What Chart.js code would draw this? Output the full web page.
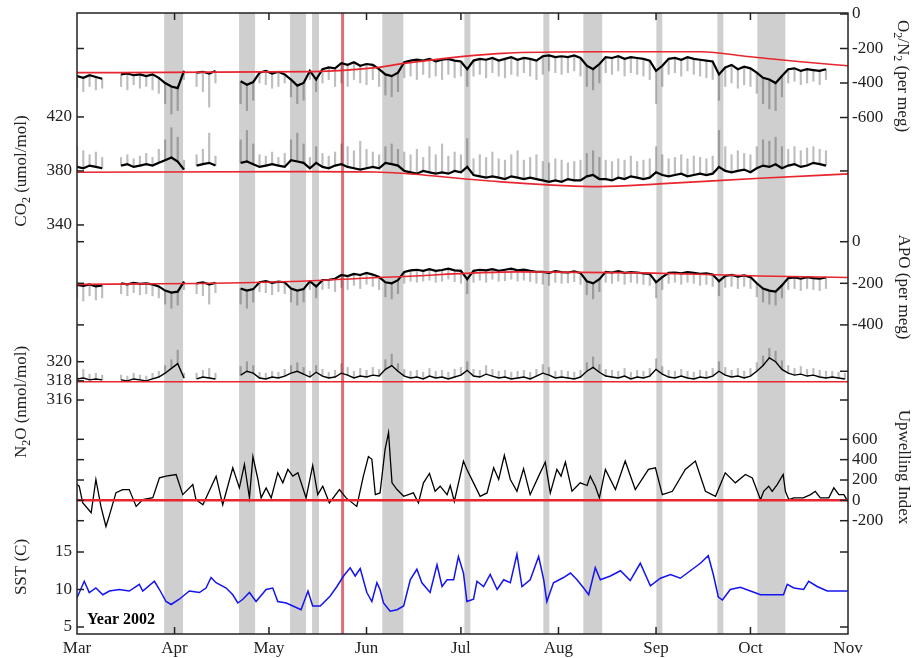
<!DOCTYPE html>
<html>
<head>
<meta charset="utf-8">
<script src="https://cdn.jsdelivr.net/npm/chart.js@4.4.0/dist/chart.umd.min.js"></script>
<style>
  html, body { margin: 0; padding: 0; background: #fff; }
  #wrap { width: 913px; height: 658px; }
</style>
</head>
<body>
<div id="wrap"><canvas id="chart" width="913" height="658"></canvas></div>
<script>
// x axis: days since 1 March 2002
const monthDays = [0, 31, 61, 92, 122, 153, 184, 214, 245];
const monthLabels = ['Mar', 'Apr', 'May', 'Jun', 'Jul', 'Aug', 'Sep', 'Oct', 'Nov'];

// shaded upwelling events and the marked day
const bandStart = [27.7, 51.5, 67.7, 74.7, 97.0, 123.1, 148.2, 160.9, 184.1, 203.5, 216.2];
const bandEnd   = [33.7, 56.6, 72.8, 76.9, 103.7, 125.0, 150.1, 166.9, 186.0, 205.4, 225.1];
const eventDay = 84.4;

// tick values
const o2Ticks = [0, -200, -400, -600];
const co2Ticks = [420, 380, 340];
const apoTicks = [0, -200, -400];
const n2oTicks = [320, 318, 316];
const upTicks = [600, 400, 200, 0, -200];
const sstTicks = [15, 10, 5];

// flask/in-situ records, one sample every 2 days (d0, d2, ... d244)
const binDays = Array.from({ length: 123 }, (_, i) => i * 2);

const o2Trace = [
  -360,-370,-355,-365,-375,null,null,-350,-345,-355,
  -350,-360,-350,-370,-400,-420,-430,-330,null,-340,
  -335,-345,-330,null,null,null,-390,-410,-395,-340,
  -330,-345,-335,-350,-380,-415,-400,-330,-380,-320,
  -310,-315,-285,-295,-280,-300,-290,-295,-320,-350,
  -360,-340,-280,-270,-265,-270,-260,-275,-265,-260,
  -270,-275,-320,-270,-260,-265,-255,-270,-260,-250,
  -265,-255,-260,-270,-245,-240,-250,-245,-250,-240,
  -255,-300,-320,-290,-250,-255,-245,-260,-250,-255,
  -260,-270,-330,-300,-260,-255,-265,-250,-260,-265,
  -270,-275,-350,-310,-295,-320,-305,-315,-340,-370,
  -380,-400,-360,-320,-315,-330,-320,-325,-330,-320,
  null,null,null];
const o2Low = [
  -430,-450,-420,-440,-430,null,null,-420,-440,-410,
  -430,-420,-440,-460,-520,-580,-560,-380,null,-420,
  -450,-540,-400,null,null,null,-520,-560,-500,-400,
  -410,-430,-420,-400,-480,-520,-500,-380,-450,-400,
  -380,-420,-400,-420,-380,-400,-410,-380,-420,-470,
  -480,-450,-370,-360,-380,-350,-370,-360,-380,-350,
  -370,-360,-420,-360,-350,-370,-340,-360,-370,-350,
  -360,-340,-360,-380,-350,-330,-340,-350,-340,-330,
  -360,-420,-440,-400,-340,-350,-330,-360,-340,-350,
  -360,-380,-520,-420,-350,-340,-360,-330,-350,-360,
  -370,-380,-500,-420,-400,-430,-410,-420,-460,-520,
  -550,-560,-480,-400,-390,-410,-400,-390,-410,-380,
  null,null,null];

const co2Trace = [
  383,382,384,383,382,null,null,384,385,383,
  384,385,384,386,388,390,387,381,null,384,
  385,386,384,null,null,null,386,387,385,383,
  384,385,384,383,388,387,386,382,386,383,
  382,384,385,383,382,381,382,383,382,386,
  385,384,380,379,378,380,379,378,379,378,
  380,379,383,377,376,375,376,375,374,376,
  375,374,375,374,373,372,373,372,374,373,
  373,376,377,374,374,373,375,374,376,375,
  374,375,379,377,376,377,378,376,377,378,
  377,378,383,380,379,380,381,379,382,384,
  383,385,382,384,385,383,384,386,385,384,
  null,null,null];
const co2High = [
  398,395,392,394,390,null,null,390,392,389,
  391,393,390,396,403,412,405,388,null,392,
  396,408,391,null,null,null,403,410,400,392,
  391,394,390,393,403,408,400,390,398,393,
  391,394,400,398,395,402,396,394,392,398,
  400,396,394,392,396,390,398,392,400,391,
  394,392,404,389,392,390,394,389,388,392,
  395,388,390,392,387,386,389,388,386,387,
  388,393,395,390,388,387,389,388,391,387,
  388,389,398,392,389,390,392,389,391,390,
  389,391,410,398,392,395,393,392,398,403,
  402,405,398,396,398,395,397,398,396,395,
  null,null,null];

const apoTrace = [
  -208,-212,-205,-215,-210,null,null,-200,-205,-198,
  -203,-200,-205,-215,-235,-245,-240,-192,null,-200,
  -195,-205,-198,null,null,null,-225,-235,-228,-195,
  -190,-198,-192,-195,-225,-235,-228,-190,-215,-185,
  -183,-178,-160,-165,-155,-160,-150,-158,-170,-195,
  -200,-185,-145,-138,-135,-140,-132,-140,-136,-130,
  -138,-140,-180,-140,-135,-138,-132,-140,-135,-130,
  -138,-134,-140,-145,-145,-150,-142,-146,-148,-143,
  -150,-190,-200,-180,-145,-148,-142,-150,-146,-148,
  -152,-155,-195,-170,-150,-148,-152,-146,-150,-155,
  -152,-158,-190,-165,-160,-168,-162,-170,-200,-225,
  -235,-240,-210,-175,-172,-178,-170,-175,-178,-172,
  null,null,null];
const apoLow = [
  -270,-285,-260,-280,-270,null,null,-250,-260,-245,
  -255,-250,-260,-270,-300,-320,-305,-230,null,-250,
  -260,-300,-245,null,null,null,-300,-320,-290,-240,
  -245,-255,-240,-250,-290,-305,-290,-230,-270,-230,
  -225,-240,-220,-230,-210,-225,-205,-215,-230,-265,
  -275,-250,-200,-190,-195,-190,-185,-195,-190,-180,
  -192,-200,-250,-195,-185,-195,-180,-190,-188,-180,
  -190,-185,-192,-200,-205,-210,-195,-200,-198,-192,
  -205,-255,-275,-240,-195,-200,-190,-205,-195,-200,
  -205,-210,-270,-230,-200,-195,-205,-195,-200,-210,
  -205,-215,-260,-220,-215,-225,-215,-225,-265,-290,
  -300,-305,-270,-230,-225,-235,-225,-230,-235,-225,
  null,null,null];

const n2oTrace = [
  318.2,318.3,318.1,318.2,318.1,null,null,318.1,318.0,318.2,
  318.1,318.0,318.2,318.4,318.8,319.3,319.8,318.3,null,318.2,
  318.4,318.3,318.2,null,null,null,318.6,319.0,318.8,318.3,
  318.2,318.4,318.3,318.5,318.8,319.0,318.7,318.4,318.9,318.5,
  318.3,318.4,318.8,318.6,318.3,318.5,318.4,318.6,318.5,319.2,
  319.6,319.0,318.5,318.3,318.4,318.2,318.5,318.3,318.4,318.2,
  318.4,318.6,319.1,318.5,318.4,318.7,318.5,318.3,318.4,318.2,
  318.3,318.4,318.2,318.5,318.8,318.6,318.3,318.4,318.3,318.2,
  318.4,319.0,319.4,318.9,318.5,318.4,318.3,318.5,318.2,318.4,
  318.3,318.5,319.2,318.7,318.4,318.3,318.5,318.3,318.2,318.4,
  318.3,318.5,319.0,318.6,318.4,318.5,318.3,318.5,319.0,319.6,
  320.4,320.0,319.2,318.8,318.6,318.7,318.5,318.6,318.4,318.3,
  318.4,318.3,318.2];
const n2oHigh = [
  318.9,319.2,318.7,318.8,318.6,null,null,318.6,318.5,318.8,
  318.6,318.5,318.8,319.0,319.6,320.2,321.2,318.8,null,318.8,
  319.1,319.3,318.8,null,null,null,319.5,320.0,319.6,318.9,
  318.8,319.0,318.9,319.2,319.6,319.9,319.4,319.0,319.6,319.2,
  318.9,319.1,319.8,319.4,319.0,319.3,319.1,319.4,319.2,320.2,
  320.8,319.8,319.2,319.0,319.1,318.9,319.3,319.0,319.1,318.9,
  319.2,319.4,320.0,319.2,319.1,319.6,319.2,319.0,319.1,318.9,
  319.0,319.1,318.9,319.2,319.7,319.4,319.0,319.1,319.0,318.9,
  319.1,319.9,320.5,319.7,319.2,319.1,319.0,319.3,318.9,319.1,
  319.0,319.3,320.3,319.5,319.1,319.0,319.2,319.0,318.9,319.1,
  319.0,319.3,320.0,319.4,319.1,319.3,319.0,319.3,319.9,320.6,
  321.4,321.1,320.1,319.6,319.3,319.5,319.2,319.3,319.1,319.0,
  319.0,318.9,318.8];

// smooth baselines (red)
const o2BaseDays = [0, 75, 95, 104, 135, 166, 198, 214, 230, 245];
const o2Base = [-340, -334, -311, -286, -228, -219, -219, -248, -277, -300];
const co2BaseDays = [0, 71, 95, 103, 134, 166, 185, 217, 245];
const co2Base = [379, 379.5, 379.2, 378.3, 372.1, 368.4, 370.4, 374.6, 377.8];
const apoBaseDays = [0, 60, 100, 140, 180, 217, 245];
const apoBase = [-205, -195, -170, -145, -150, -165, -172];
const n2oBaseDays = [0, 245];
const n2oBase = [317.9, 317.9];

// upwelling index
const upDays = [0,0.7,1.8,4.5,6.0,7.6,9.2,10.2,12.4,14.5,16.6,18.8,20.9,24.1,26.2,28.3,31.5,33.6,36.8,37.8,
  40.0,44.2,46.3,49.5,51.6,53.2,54.8,55.9,57.5,58.5,60.1,61.7,63.8,65.4,67.0,68.6,70.2,72.8,74.9,76.5,
  78.1,80.2,83.4,85.5,88.9,91.0,92.6,93.7,94.8,96.3,97.9,99.0,99.5,100.1,101.7,103.8,106.9,108.5,110.1,112.0,
  113.8,115.4,117.6,118.6,119.9,122.8,123.9,126.0,128.1,130.3,132.4,134.0,135.8,137.7,139.8,141.9,144.0,146.7,148.8,150.4,
  152.5,153.8,155.2,157.3,159.9,162.1,163.1,164.7,166.0,167.9,171.1,174.2,177.4,181.6,183.8,186.0,189.2,193.3,196.5,199.7,
  202.9,206.0,209.2,212.4,214.6,217.2,218.2,219.8,220.9,222.5,224.4,225.1,226.2,227.8,230.8,233.1,234.6,236.2,238.9,240.5,
  242.1,243.7,244.9];
const upVals = [155,139,-23,-122,205,-60,-257,-158,76,106,106,-60,7,27,221,238,254,56,155,7,
  -43,238,-43,320,123,353,24,430,205,24,123,24,271,172,304,238,271,24,343,56,
  139,-26,106,24,-60,238,430,403,56,73,502,667,436,172,106,40,73,-26,172,264,
  89,139,56,146,-10,386,304,172,40,73,320,205,442,205,89,311,56,238,376,73,
  304,238,376,89,172,146,238,139,24,304,106,386,106,304,320,56,89,304,386,89,
  40,271,172,254,220,7,89,139,89,155,254,89,7,24,24,56,89,24,24,123,
  56,56,-10];
const upZeroDays = [0, 245];
const upZero = [0, 0];

// sea surface temperature
const sstDays = [0,2.3,3.9,6.0,8.2,10.3,13.4,16.6,19.8,20.9,24.6,26.2,28.3,29.9,32.5,35.7,38.9,41.0,42.6,44.2,
  47.4,49.5,51.1,52.7,54.8,56.9,60.1,62.2,63.8,66.5,68.6,71.2,73.4,74.9,77.3,80.4,82.6,84.7,86.8,88.4,
  90.0,92.1,93.7,95.3,96.3,97.4,99.5,101.7,103.8,105.9,108.0,109.6,112.2,114.4,116.0,117.6,119.7,121.2,122.8,123.9,
  126.0,127.1,129.2,131.3,133.5,135.6,137.7,139.8,141.4,144.0,146.7,148.3,149.3,151.4,154.6,156.8,158.9,161.0,162.6,164.7,
  166.3,169.5,172.7,175.8,179.0,182.2,185.4,188.6,191.7,194.9,198.1,200.6,202.2,203.8,205.1,207.6,210.8,214.0,217.2,224.5,
  225.7,227.8,230.9,232.5,235.2,238.4,241.5,244.9];
const sstVals = [8.9,11.1,9.6,10.2,9.3,9.8,10,9.8,10.7,9.8,11.1,10,8.4,8.0,8.7,9.8,9.6,10.2,11.6,10.9,
  10.2,9.3,8.2,8.7,9.6,8.4,10,10.2,8.4,8.2,7.8,7.3,9.8,7.8,7.8,9.1,10.4,11.8,12.9,11.8,
  12.8,9.6,8.4,10.9,10,8.2,7.1,7.3,7.8,11.3,12.7,10.9,9.6,13.3,10.4,11.3,11.3,14.4,12.2,8.4,
  8.7,11.1,10.4,12,10,11.3,10.9,14.7,10.4,11.3,14.4,11.3,8.4,10.9,11.6,12.2,11.3,10.2,9.3,12.9,
  11.3,11.8,12.5,11.2,13.5,10.5,11.5,12,11.5,12.5,13.5,14.5,12,9,8.6,10,10.3,9.8,9.3,9.3,
  10.7,10.2,10,11.1,10.4,9.8,9.8,9.8];

const pts = (xs, ys) => xs.map((x, i) => ({ x: x, y: ys[i] }));
const spans = (xs, a, b) => xs.map((x, i) => ({ x: x, y: (a[i] == null || b[i] == null) ? null : [a[i], b[i]] }));

const FONT = '"Liberation Serif", "Times New Roman", serif';
const INK = '#222';
const RED = '#e8262f';

function lineSet(data, axis, color, width, order, smooth) {
  return {
    type: 'line', data: data, yAxisID: axis, borderColor: color, borderWidth: width,
    pointRadius: 0, spanGaps: false, order: order,
    cubicInterpolationMode: smooth ? 'monotone' : 'default', tension: 0
  };
}
function spreadSet(data, axis, order) {
  return {
    type: 'bar', data: data, yAxisID: axis, backgroundColor: 'rgba(20,20,20,0.28)',
    borderWidth: 0, barThickness: 1.5, grouped: false, order: order
  };
}

// draws text with subscript parts, rotated about its centre
function drawRich(ctx, segs, cx, cy, angle) {
  const big = '17px ' + FONT, small = '12px ' + FONT;
  ctx.save();
  ctx.translate(cx, cy);
  ctx.rotate(angle);
  let total = 0;
  segs.forEach(([t, sub]) => { ctx.font = sub ? small : big; total += ctx.measureText(t).width; });
  let x = -total / 2;
  ctx.textAlign = 'left';
  ctx.textBaseline = 'middle';
  ctx.fillStyle = INK;
  segs.forEach(([t, sub]) => {
    ctx.font = sub ? small : big;
    ctx.fillText(t, x, sub ? 5 : 0);
    x += ctx.measureText(t).width;
  });
  ctx.restore();
}

const decor = {
  id: 'decor',
  beforeDatasetsDraw(chart) {
    const { ctx, chartArea: a, scales } = chart;
    const xs = scales.x;
    ctx.save();
    ctx.fillStyle = '#cfcfcf';
    bandStart.forEach((s, i) => {
      const x0 = xs.getPixelForValue(s), x1 = xs.getPixelForValue(bandEnd[i]);
      ctx.fillRect(x0, a.top, x1 - x0, a.bottom - a.top);
    });
    ctx.strokeStyle = '#d9707c';
    ctx.lineWidth = 3;
    const ex = xs.getPixelForValue(eventDay);
    ctx.beginPath(); ctx.moveTo(ex, a.top); ctx.lineTo(ex, a.bottom); ctx.stroke();
    ctx.restore();
  },
  afterDraw(chart) {
    const { ctx, chartArea: a, scales } = chart;
    ctx.save();
    ctx.strokeStyle = INK;
    ctx.lineWidth = 1.5;
    ctx.strokeRect(a.left, a.top, a.right - a.left, a.bottom - a.top);

    // month ticks top and bottom, pointing inwards
    monthDays.slice(1, -1).forEach(d => {
      const x = scales.x.getPixelForValue(d);
      ctx.beginPath();
      ctx.moveTo(x, a.top); ctx.lineTo(x, a.top + 7);
      ctx.moveTo(x, a.bottom); ctx.lineTo(x, a.bottom - 7);
      ctx.stroke();
    });

    ctx.font = '17px ' + FONT;
    ctx.fillStyle = INK;
    ctx.textBaseline = 'middle';
    const tick = (axis, vals, side, labelled) => {
      const s = scales[axis];
      vals.forEach(v => {
        const y = s.getPixelForValue(v);
        ctx.beginPath();
        if (side === 'left') { ctx.moveTo(a.left, y); ctx.lineTo(a.left + 7, y); }
        else { ctx.moveTo(a.right, y); ctx.lineTo(a.right - 8, y); }
        ctx.stroke();
        if (labelled) {
          ctx.textAlign = side === 'left' ? 'right' : 'left';
          ctx.fillText(String(v), side === 'left' ? a.left - 5 : a.right + 4, y);
        }
      });
    };
    tick('yCO2', co2Ticks, 'left', true);
    tick('yN2O', n2oTicks, 'left', true);
    tick('ySST', sstTicks, 'left', true);
    tick('yO2', [-200], 'left', false);
    tick('yAPO', apoTicks, 'left', false);
    tick('yUp', upTicks, 'left', false);
    tick('yO2', o2Ticks, 'right', true);
    tick('yAPO', apoTicks, 'right', true);
    tick('yUp', upTicks, 'right', true);
    tick('yCO2', [380], 'right', false);
    tick('yN2O', [319, 316], 'right', false);
    tick('ySST', [15, 5], 'right', false);

    // axis titles
    drawRich(ctx, [['CO', 0], ['2', 1], [' (umol/mol)', 0]], 22, 171, -Math.PI / 2);
    drawRich(ctx, [['N', 0], ['2', 1], ['O (nmol/mol)', 0]], 22, 402, -Math.PI / 2);
    drawRich(ctx, [['SST (C)', 0]], 22, 567, -Math.PI / 2);
    drawRich(ctx, [['O', 0], ['2', 1], ['/N', 0], ['2', 1], [' (per meg)', 0]], 902, 76, Math.PI / 2);
    drawRich(ctx, [['APO (per meg)', 0]], 903, 287, Math.PI / 2);
    drawRich(ctx, [['Upwelling Index', 0]], 903, 467, Math.PI / 2);

    ctx.font = 'bold 16px ' + FONT;
    ctx.textAlign = 'left';
    ctx.fillStyle = '#000';
    ctx.fillText('Year 2002', 87, 620);
    ctx.restore();
  }
};

function hiddenAxis(min, max) {
  return { type: 'linear', display: false, min: min, max: max };
}

new Chart(document.getElementById('chart'), {
  type: 'line',
  data: {
    datasets: [
      lineSet(pts(o2BaseDays, o2Base), 'yO2', RED, 1.6, 0, true),
      lineSet(pts(co2BaseDays, co2Base), 'yCO2', RED, 1.6, 0, true),
      lineSet(pts(apoBaseDays, apoBase), 'yAPO', RED, 1.6, 0, true),
      lineSet(pts(n2oBaseDays, n2oBase), 'yN2O', RED, 1.6, 0, true),
      lineSet(pts(upZeroDays, upZero), 'yUp', RED, 2.5, 0, false),
      lineSet(pts(binDays, o2Trace), 'yO2', '#000', 2.2, 1, false),
      lineSet(pts(binDays, co2Trace), 'yCO2', '#000', 2.2, 1, false),
      lineSet(pts(binDays, apoTrace), 'yAPO', '#000', 2.2, 1, false),
      lineSet(pts(binDays, n2oTrace), 'yN2O', '#000', 1.4, 1, false),
      spreadSet(spans(binDays, o2Low, o2Trace), 'yO2', 2),
      spreadSet(spans(binDays, co2Trace, co2High), 'yCO2', 2),
      spreadSet(spans(binDays, apoLow, apoTrace), 'yAPO', 2),
      spreadSet(spans(binDays, n2oTrace, n2oHigh), 'yN2O', 2),
      lineSet(pts(upDays, upVals), 'yUp', '#000', 1.3, 1, false),
      lineSet(pts(sstDays, sstVals), 'ySST', '#1414f0', 1.5, 1, false)
    ]
  },
  options: {
    responsive: false,
    devicePixelRatio: 1,
    animation: false,
    layout: { padding: { left: 77, right: 65, top: 13, bottom: 0 } },
    plugins: { legend: { display: false }, tooltip: { enabled: false } },
    scales: {
      x: {
        type: 'linear', min: 0, max: 245, offset: false,
        grid: { display: false, drawTicks: false }, border: { display: false },
        afterBuildTicks: (scale) => { scale.ticks = monthDays.map(v => ({ value: v })); },
        afterFit: (scale) => { scale.height = 24; },
        ticks: {
          autoSkip: false, maxRotation: 0, padding: 4, color: INK,
          font: { family: FONT, size: 17 },
          callback: (v) => monthLabels[monthDays.indexOf(v)]
        }
      },
      yO2: hiddenAxis(-3594, 5.8),
      yCO2: hiddenAxis(37.0, 497.0),
      yAPO: hiddenAxis(-1886, 1099.5),
      yN2O: hiddenAxis(291.56, 356.42),
      yUp: hiddenAxis(-1313.5, 4789.7),
      ySST: hiddenAxis(4.067, 86.87)
    }
  },
  plugins: [decor]
});
</script>
</body>
</html>
